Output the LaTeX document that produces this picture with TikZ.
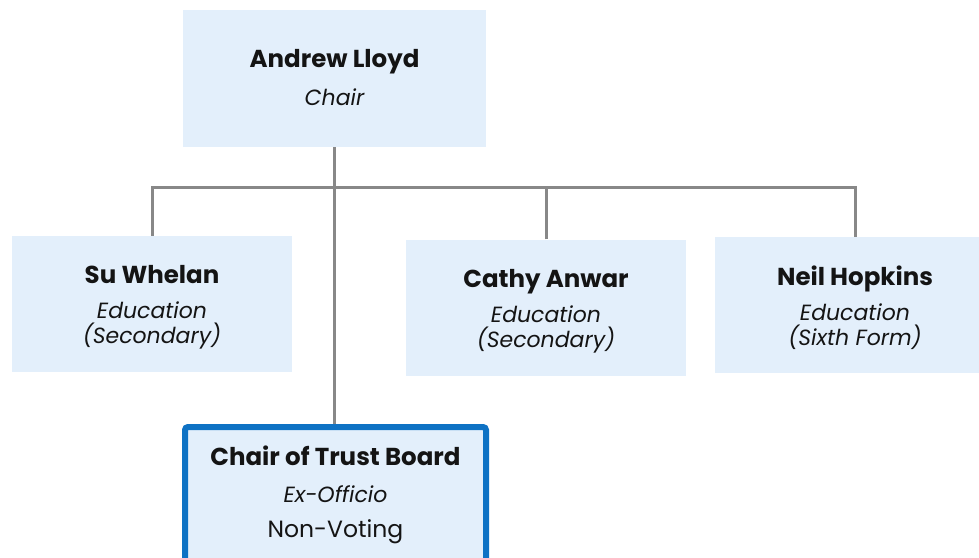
\documentclass[tikz,border=0pt]{standalone}
\usepackage{fontspec}
\setmainfont{Poppins}
\definecolor{boxfill}{RGB}{227,239,251}
\definecolor{boxblue}{RGB}{14,114,196}
\definecolor{conngray}{RGB}{136,136,136}
\definecolor{txt}{RGB}{20,20,20}
\newcommand{\nm}[1]{{\fontsize{24.5}{25}\selectfont\bfseries #1}}
\newcommand{\rl}[1]{{\fontsize{22}{25}\selectfont\itshape #1}}
\newcommand{\rg}[1]{{\fontsize{23.5}{25}\selectfont #1}}
\begin{document}
\begin{tikzpicture}[x=1pt,y=-1pt,
  member/.style={fill=boxfill, draw=none, minimum width=280, minimum height=136, inner sep=0pt},
  exofficio/.style={member, draw=boxblue, line width=6pt, rounded corners=3pt, minimum width=301, minimum height=140},
  txtblock/.style={inner sep=0pt, align=center, text=txt, font=\fontsize{22}{25}\selectfont},
  conn/.style={draw=conngray, line width=3pt, line join=miter}]
\useasboundingbox (0,0) rectangle (979,557);
\clip (0,0) rectangle (979,557);
% boxes
\node[member, minimum width=303, minimum height=137] (top) at (334.5,78.5) {};
\node[member] (su) at (152,304) {};
\node[member] (cathy) at (546,307.5) {};
\node[member] (neil) at (855,305) {};
\node[exofficio, anchor=north] (ct) at (335.5,424) {};
% texts
\node[txtblock] (toptxt) at ([yshift=0.5pt]top.center) {\nm{Andrew Lloyd}\\[13pt]\rl{Chair}};
\node[txtblock] (sutxt) at ([yshift=-3.5pt]su.center) {\nm{Su Whelan}\\[10pt]\rl{Education}\\\rl{(Secondary)}};
\node[txtblock] (cathytxt) at ([yshift=-4pt]cathy.center) {\nm{Cathy Anwar}\\[10pt]\rl{Education}\\\rl{(Secondary)}};
\node[txtblock] (neiltxt) at ([yshift=-3pt]neil.center) {\nm{Neil Hopkins}\\[10pt]\rl{Education}\\\rl{(Sixth Form)}};
\node[txtblock] (cttxt) at ([yshift=2pt]ct.center) {\nm{Chair of Trust Board}\\[12pt]\rl{Ex-Officio}\\[10pt]\rg{Non-Voting}};
% connectors
\coordinate (bar) at (0,187);
\draw[conn] (su.north) -- (su.north |- bar) -- (neil.north |- bar) -- (neil.north);
\draw[conn] (cathy.north) -- (cathy.north |- bar);
\draw[conn] (top.south) -- (top.south |- ct.north);
\end{tikzpicture}
\end{document}
